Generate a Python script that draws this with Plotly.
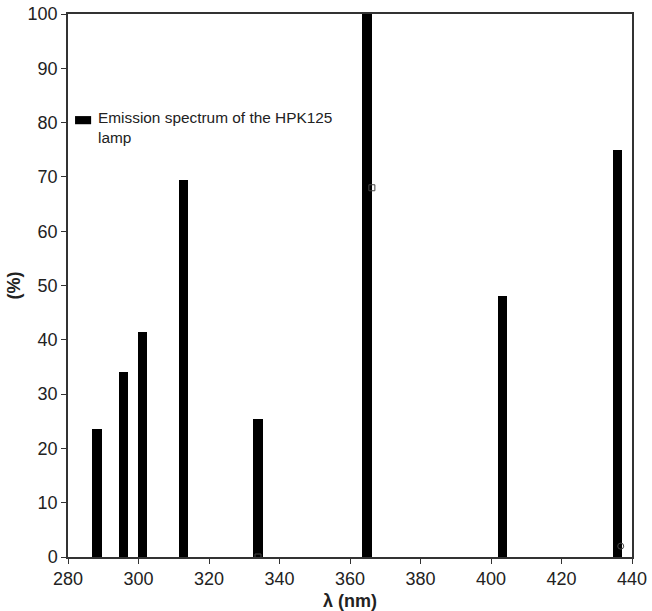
import plotly.graph_objects as go

wavelengths = [288.2, 295.8, 301.2, 312.8, 333.9, 364.8, 403.3, 435.9]
intensity = [23.5, 34.0, 41.5, 69.5, 25.5, 100.0, 48.0, 75.0]
x_ticks = [280, 300, 320, 340, 360, 380, 400, 420, 440]
y_ticks = [0, 10, 20, 30, 40, 50, 60, 70, 80, 90, 100]
legend_label = "Emission spectrum of the HPK125<br>lamp"
sq_x = [366.2, 333.9]
sq_y = [68.0, 0.0]
circ_x = [436.8]
circ_y = [2.0]

fig = go.Figure()
fig.add_trace(go.Bar(
    x=wavelengths, y=intensity, width=2.7,
    marker=dict(color="black", line=dict(width=0)),
    name=legend_label, showlegend=False,
))
fig.add_trace(go.Scatter(
    x=sq_x, y=sq_y, mode="markers", showlegend=False,
    marker=dict(symbol="square-open", size=6, color="#444", line=dict(width=1)),
))
fig.add_trace(go.Scatter(
    x=circ_x, y=circ_y, mode="markers", showlegend=False,
    marker=dict(symbol="circle-open", size=6, color="#444", line=dict(width=1)),
))

# legend drawn as a key box + text
fig.add_shape(type="rect", xref="paper", yref="paper",
              x0=0.0125, x1=0.041, y0=0.797, y1=0.812,
              fillcolor="black", line=dict(width=0))
fig.add_annotation(xref="paper", yref="paper", x=0.050, y=0.829,
                   xanchor="left", yanchor="top", align="left", showarrow=False,
                   text=legend_label,
                   font=dict(family="Liberation Sans, Arial", size=15.4, color="#222"))

axis_common = dict(
    showgrid=False, zeroline=False, showline=True, linecolor="#333",
    linewidth=1.5, mirror=True, ticks="outside", ticklen=5, tickcolor="#333",
    automargin=False, ticklabeloverflow="allow",
    tickfont=dict(family="Liberation Sans, Arial", size=18, color="#222"),
)
fig.update_layout(
    width=652, height=611,
    margin=dict(l=68, r=20, t=14, b=54),
    paper_bgcolor="white", plot_bgcolor="white",
    font=dict(family="Liberation Sans, Arial", color="#222"),
    xaxis=dict(range=[280, 440], tickvals=x_ticks,
               title=dict(text="<b>λ (nm)</b>", font=dict(size=18), standoff=9),
               **axis_common),
    yaxis=dict(range=[0, 100], tickvals=y_ticks,
               title=dict(text="<b>(%)</b>", font=dict(size=18), standoff=2),
               **axis_common),
    showlegend=False,
    bargap=0,
)
fig.write_html("out.html", config={"displayModeBar": False},
               post_script="document.body.style.margin='0';")
